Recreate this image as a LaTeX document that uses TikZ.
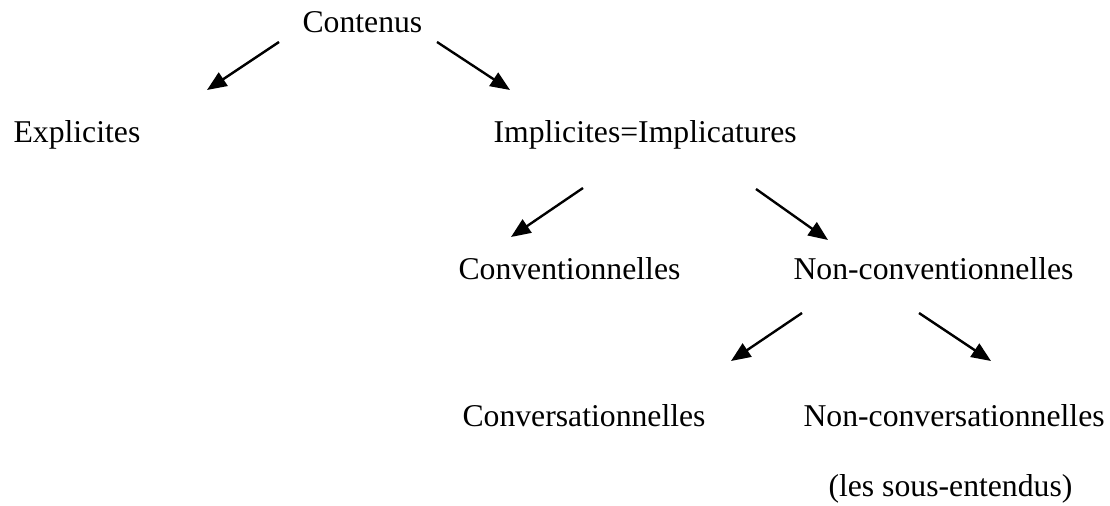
\documentclass[tikz,border=0pt]{standalone}
\usepackage{fontspec}
\setmainfont{Liberation Serif}
\usetikzlibrary{arrows.meta}
\tikzset{
  lbl/.style={anchor=base west, inner sep=0pt, font=\fontsize{12}{14}\selectfont},
  arr/.style={line width=0.9pt, -{Triangle[length=7.4pt, width=6pt]}}
}
\begin{document}
\begin{tikzpicture}[x=0.3785pt, y=-0.3785pt]
\useasboundingbox (0,0) rectangle (1110,506);
% texts
\node[lbl] (contenus) at (302,33) {Contenus};
\node[lbl] (explicites) at (13,143) {Explicites};
\node[lbl] (implicites) at (493,143) {Implicites=Implicatures};
\node[lbl] (conventionnelles) at (458,280) {Conventionnelles};
\node[lbl] (nonconv) at (793,280) {Non-conventionnelles};
\node[lbl] (conversationnelles) at (462,427) {Conversationnelles};
\node[lbl] (nonconvers) at (803,427) {Non-conversationnelles};
\node[lbl] (sousentendus) at (828,497) {(les sous-entendus)};
% arrow end points
\coordinate (a1s) at (279,42);  \coordinate (a1e) at (207,90);
\coordinate (a2s) at (437,42);  \coordinate (a2e) at (510,90);
\coordinate (a3s) at (583,188); \coordinate (a3e) at (511,237);
\coordinate (a4s) at (756,189); \coordinate (a4e) at (828,240);
\coordinate (a5s) at (802,313); \coordinate (a5e) at (731,361);
\coordinate (a6s) at (919,313); \coordinate (a6e) at (991,361);
% arrows
\draw[arr] (a1s) -- (a1e);
\draw[arr] (a2s) -- (a2e);
\draw[arr] (a3s) -- (a3e);
\draw[arr] (a4s) -- (a4e);
\draw[arr] (a5s) -- (a5e);
\draw[arr] (a6s) -- (a6e);
\end{tikzpicture}
\end{document}
